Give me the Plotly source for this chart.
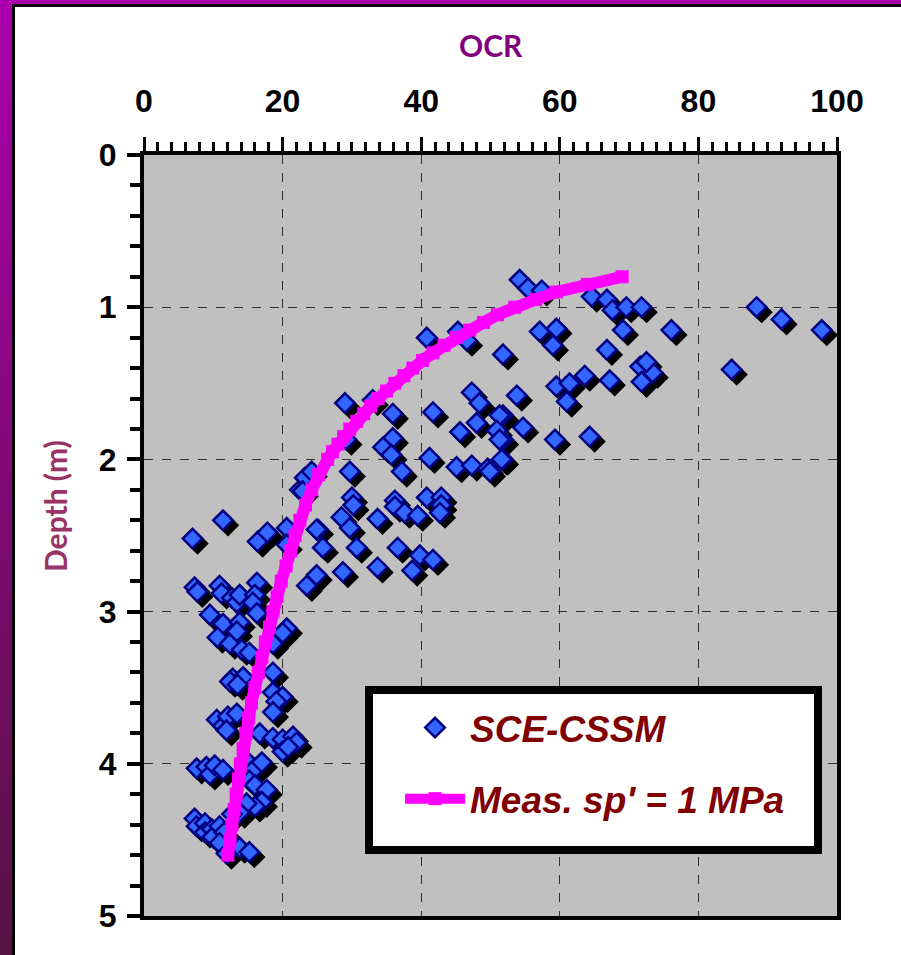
import plotly.graph_objects as go

# ---------------- data ----------------
meas_ocr = [54.2, 55.4, 57.4, 64.6, 66.8, 67.6, 69.6, 71.8, 57.1, 59.5, 59.0, 51.8, 69.1, 76.1, 66.8,
            88.4, 92.0, 97.8, 84.8, 71.6, 73.4, 71.8, 72.5, 59.5, 61.4, 63.6, 67.2, 61.0, 53.8, 51.8,
            54.7, 59.3, 64.3, 51.8, 51.8,
            40.8, 45.3, 46.6, 29.0, 33.0, 35.9, 41.7, 47.3, 48.4, 45.6, 48.0, 51.3, 50.9, 51.3, 35.9,
            34.5, 35.7, 29.7, 37.2, 41.2, 45.1, 47.3, 49.6, 49.9, 51.6, 29.2, 22.5, 23.2, 24.2, 40.8,
            30.0, 36.2, 42.9,
            30.2, 28.5, 29.7, 33.7, 36.2, 37.6, 39.5, 42.9, 42.7, 25.1, 25.8, 30.7, 36.6, 39.8, 41.7,
            38.7, 28.7, 33.7, 24.9, 23.5,
            7.0, 11.4, 16.4, 17.8, 20.6, 20.6, 22.9, 24.9, 7.3, 7.7, 10.9, 11.2, 12.7, 13.4, 13.8,
            16.3, 16.0, 15.7, 16.3, 9.5, 11.4, 13.8, 10.6, 12.4, 13.4, 14.1, 15.2, 20.6, 20.0, 18.6,
            18.6, 12.8, 14.3,
            12.4, 13.5, 18.6, 20.0, 19.1, 18.6, 10.5, 11.4, 12.1, 11.9, 13.4, 16.7, 18.6, 20.0, 21.5,
            22.0, 20.0, 20.8, 7.6, 9.0, 9.5, 10.2, 11.4, 15.0, 16.0, 17.0, 15.2, 16.0, 17.7, 17.0,
            16.0, 14.8, 13.8, 12.7, 7.3, 7.6, 8.8, 8.8, 9.8, 9.9, 10.9, 11.6, 10.9, 13.8, 15.2, 11.9]
meas_depth = [0.82, 0.875, 0.89, 0.93, 0.95, 1.02, 1.00, 1.00, 1.16, 1.14, 1.25, 1.31, 1.15, 1.15, 1.28,
              1.00, 1.08, 1.15, 1.41, 1.39, 1.43, 1.49, 1.36, 1.52, 1.50, 1.45, 1.48, 1.62, 1.58, 1.71,
              1.79, 1.87, 1.85, 1.87, 2.00,
              1.20, 1.16, 1.22, 1.63, 1.61, 1.70, 1.69, 1.56, 1.63, 1.82, 1.76, 1.71, 1.81, 1.87, 1.86,
              1.92, 1.97, 2.08, 2.08, 1.99, 2.05, 2.04, 2.06, 2.08, 2.00, 1.87, 2.20, 2.12, 2.08, 2.25,
              2.25, 2.27, 2.25,
              2.30, 2.38, 2.45, 2.39, 2.31, 2.35, 2.37, 2.30, 2.35, 2.46, 2.58, 2.58, 2.58, 2.63, 2.66,
              2.73, 2.74, 2.71, 2.76, 2.83,
              2.52, 2.40, 2.54, 2.48, 2.45, 2.56, 2.21, 2.46, 2.84, 2.87, 2.83, 2.88, 2.91, 2.94, 2.89,
              2.81, 2.89, 2.94, 3.01, 3.02, 3.08, 3.07, 3.17, 3.21, 3.13, 3.25, 3.27, 3.11, 3.14, 3.21,
              3.40, 3.44, 3.43,
              3.46, 3.48, 3.53, 3.56, 3.59, 3.66, 3.71, 3.75, 3.69, 3.78, 3.67, 3.80, 3.83, 3.84, 3.82,
              3.86, 3.92, 3.89, 4.03, 4.02, 4.07, 4.01, 4.04, 3.99, 4.03, 3.99, 4.11, 4.14, 4.17, 4.25,
              4.28, 4.26, 4.32, 4.33, 4.36, 4.41, 4.39, 4.45, 4.43, 4.48, 4.41, 4.45, 4.52, 4.55, 4.58, 4.59]

curve_depth = [0.80, 0.85, 0.90, 0.95, 1.00, 1.05, 1.10, 1.15, 1.20, 1.25, 1.30, 1.35, 1.40, 1.45,
               1.50, 1.55, 1.60, 1.65, 1.70, 1.75, 1.80, 1.85, 1.90, 1.95, 2.00, 2.10, 2.20, 2.30,
               2.40, 2.50, 2.60, 2.70, 2.80, 2.90, 3.00, 3.10, 3.20, 3.30, 3.40, 3.50, 3.60, 3.70,
               3.80, 3.90, 4.00, 4.10, 4.20, 4.30, 4.40, 4.50, 4.60]
curve_ocr = [69.0, 64.0, 59.5, 56.5, 53.5, 51.0, 49.0, 47.0, 45.0, 43.3, 41.7, 40.2, 38.8, 37.5,
             36.2, 35.0, 33.8, 32.7, 31.7, 30.7, 29.7, 28.8, 28.0, 27.2, 26.5, 25.2, 24.2, 23.3,
             22.5, 21.8, 21.2, 20.5, 19.8, 19.2, 18.6, 18.1, 17.5, 17.0, 16.5, 16.0, 15.5, 15.1,
             14.7, 14.3, 13.9, 13.6, 13.3, 13.0, 12.7, 12.4, 12.1]

x_ticks = [0, 20, 40, 60, 80, 100]
y_ticks = [0, 1, 2, 3, 4, 5]

# ---------------- layout geometry ----------------
FW, FH = 901, 955
L, R, T, B = 144, 64, 155, 39
W, H = FW - L - R, FH - T - B
X_RANGE = [0, 100]
Y_RANGE = [5, 0]

def px(xp):
    return (xp - L) / W

def py(yp):
    return 1 - (yp - T) / H

# shadow offset of diamonds in data units (about 5 px right/down)
sdx = 5 * (X_RANGE[1] - X_RANGE[0]) / W
sdy = 5 * (Y_RANGE[0] - Y_RANGE[1]) / H

fig = go.Figure()

fig.add_trace(go.Scatter(
    x=[v + sdx for v in meas_ocr], y=[d + sdy for d in meas_depth],
    mode="markers", showlegend=False, hoverinfo="skip",
    marker=dict(symbol="diamond", size=15, color="black", line=dict(color="black", width=2)),
))
fig.add_trace(go.Scatter(
    x=meas_ocr, y=meas_depth, mode="markers", name="SCE-CSSM", legendgroup="a",
    marker=dict(symbol="diamond", size=15, color="#3366FF", line=dict(color="#000080", width=2.5)),
))
fig.add_trace(go.Scatter(
    x=curve_ocr, y=curve_depth, mode="lines+markers", name="Meas. sp' = 1 MPa", legendgroup="b",
    line=dict(color="#FF00FF", width=12),
    marker=dict(symbol="square", size=13, color="#FF00FF", line=dict(width=0)),
))

tickfont = dict(family="Liberation Sans, Arial, sans-serif", size=32, color="black", weight="bold")

fig.update_xaxes(
    side="top", range=X_RANGE, tickmode="array", tickvals=x_ticks,
    ticks="outside", ticklen=14, tickwidth=3, tickcolor="black",
    showline=True, linewidth=4, linecolor="black", mirror=True,
    showgrid=True, gridcolor="#303030", griddash="dash", gridwidth=1, zeroline=False,
    minor=dict(dtick=2, tick0=0, ticks="outside", ticklen=9, tickwidth=3, tickcolor="black", showgrid=False),
    tickfont=tickfont, ticklabelstandoff=12,
)
fig.update_yaxes(
    range=Y_RANGE, tickmode="array", tickvals=y_ticks,
    ticks="outside", ticklen=13, tickwidth=4, tickcolor="black",
    showline=True, linewidth=4, linecolor="black", mirror=True,
    showgrid=True, gridcolor="#303030", griddash="dash", gridwidth=1, zeroline=False,
    minor=dict(dtick=0.2, tick0=0, ticks="outside", ticklen=10, tickwidth=4, tickcolor="black", showgrid=False),
    tickfont=tickfont, ticklabelstandoff=4,
)

shapes = []
# left gradient border
n = 48
c0, c1 = (172, 0, 172), (88, 18, 68)
for i in range(n):
    t = i / (n - 1)
    col = "rgb(%d,%d,%d)" % tuple(round(c0[k] + (c1[k] - c0[k]) * t) for k in range(3))
    y0 = FH * i / n
    y1 = FH * (i + 1) / n + 1
    shapes.append(dict(type="rect", xref="paper", yref="paper", x0=px(0), x1=px(12),
                       y0=py(y0), y1=py(y1), fillcolor=col, line=dict(width=0), layer="above"))
# top purple band
shapes.append(dict(type="rect", xref="paper", yref="paper", x0=px(0), x1=px(FW),
                   y0=py(0), y1=py(4.5), fillcolor="rgb(172,0,172)", line=dict(width=0), layer="above"))
# black frame lines
shapes.append(dict(type="rect", xref="paper", yref="paper", x0=px(12), x1=px(15),
                   y0=py(4), y1=py(FH), fillcolor="black", line=dict(width=0), layer="above"))
shapes.append(dict(type="rect", xref="paper", yref="paper", x0=px(12), x1=px(FW),
                   y0=py(4), y1=py(7), fillcolor="black", line=dict(width=0), layer="above"))
# legend frame
shapes.append(dict(type="rect", xref="paper", yref="paper", x0=px(369), x1=px(818),
                   y0=py(690), y1=py(850), fillcolor="white", line=dict(color="black", width=8),
                   layer="above"))

annotations = [
    dict(text="OCR", xref="paper", yref="paper", x=px(491), y=py(45), showarrow=False,
         xanchor="center", yanchor="middle",
         font=dict(family="Comic Sans MS, Lato, sans-serif", size=30, color="#800080", weight="bold")),
    dict(text="Depth (m)", xref="paper", yref="paper", x=px(55), y=py(506), showarrow=False,
         xanchor="center", yanchor="middle", textangle=-90,
         font=dict(family="Comic Sans MS, Lato, sans-serif", size=30, color="#993366", weight="bold")),
]

fig.update_layout(
    width=FW, height=FH, margin=dict(l=L, r=R, t=T, b=B),
    paper_bgcolor="white", plot_bgcolor="#C0C0C0",
    shapes=shapes, annotations=annotations,
    legend=dict(x=px(400), y=py(697), xanchor="left", yanchor="top",
                bgcolor="rgba(0,0,0,0)", borderwidth=0, tracegroupgap=20, itemwidth=60,
                font=dict(family="Liberation Sans, Arial, sans-serif", size=37, color="#800000",
                          weight="bold", style="italic")),
)

fig.write_html("out.html")
